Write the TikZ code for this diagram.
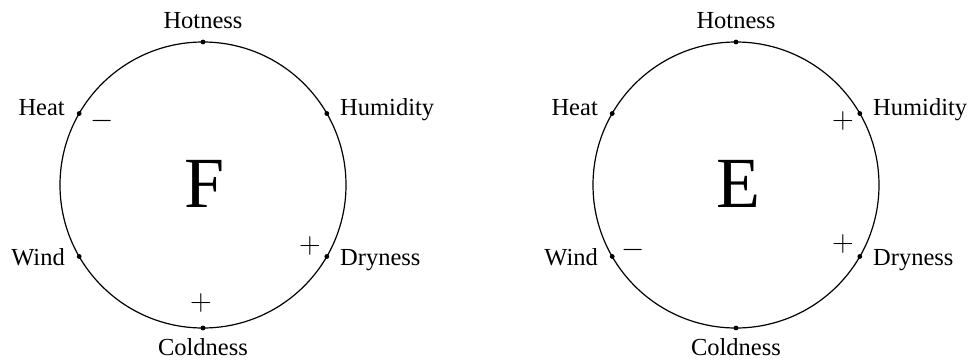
\documentclass[tikz,border=0pt]{standalone}
\usepackage{fix-cm}
\usepackage{fontspec}
\setmainfont{Liberation Serif}
\begin{document}
\begin{tikzpicture}[x=1pt,y=-1pt,
  ring/.style={draw, line width=1.2pt},
  dotpt/.style={circle, fill, inner sep=0pt, minimum size=4.8pt},
  lbl/.style={font=\fontsize{24.5}{27}\selectfont, inner sep=0pt},
  sign/.style={font=\fontsize{30}{30}\selectfont, inner sep=0pt},
  big/.style={font=\fontsize{72}{72}\selectfont, inner sep=0pt}]
\useasboundingbox (0,0) rectangle (972,364);
\foreach \cx/\p in {203/F, 736/E}{
  \begin{scope}[shift={(\cx,185)}]
    \draw[ring] (0,0) circle[radius=143];
    \node[dotpt] (\p-top) at (0,-143) {};
    \node[dotpt] (\p-bot) at (0,143) {};
    \node[dotpt] (\p-heat) at (-123.8,-71.5) {};
    \node[dotpt] (\p-hum) at (123.8,-71.5) {};
    \node[dotpt] (\p-wind) at (-123.8,71.5) {};
    \node[dotpt] (\p-dry) at (123.8,71.5) {};
    \node[lbl, anchor=base] (\p-hotl) at (0,-157) {Hotness};
    \node[lbl, anchor=base] (\p-coldl) at (0,170) {Coldness};
    \node[lbl, anchor=base east] (\p-heatl) at (-138,-70) {Heat};
    \node[lbl, anchor=base west] (\p-huml) at (137,-70) {Humidity};
    \node[lbl, anchor=base east] (\p-windl) at (-138,80) {Wind};
    \node[lbl, anchor=base west] (\p-dryl) at (137,80) {Dryness};
    \node[big, anchor=base] (\p-c) at (2,22) {\p};
  \end{scope}
}
\node[sign] (s1) at (102,121) {$-$};
\node[sign] (s2) at (201,303) {$+$};
\node[sign] (s3) at (310,246) {$+$};
\node[sign] (s4) at (843,121) {$+$};
\node[sign] (s5) at (633,250) {$-$};
\node[sign] (s6) at (843,244) {$+$};
\end{tikzpicture}
\end{document}
